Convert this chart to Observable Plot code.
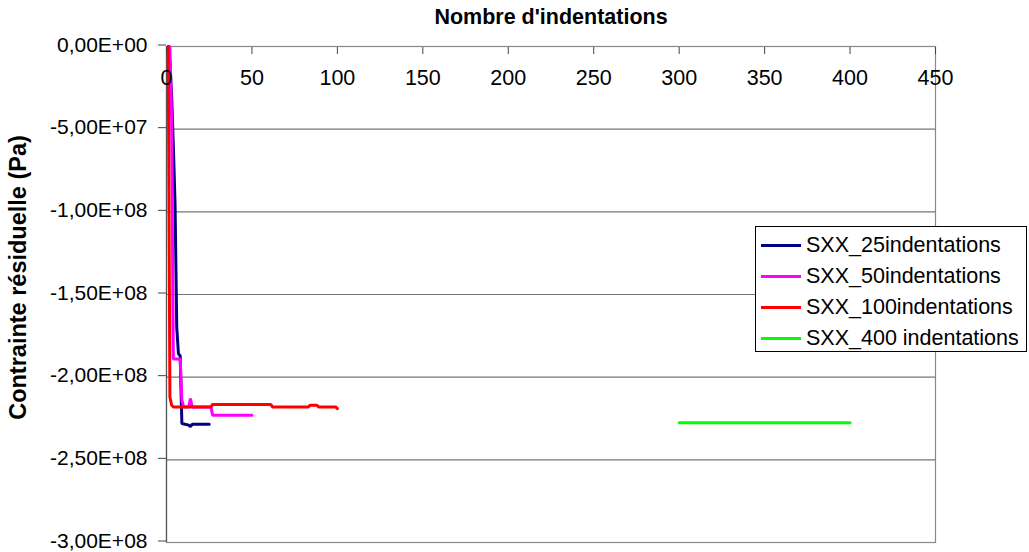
<!DOCTYPE html>
<html><head><meta charset="utf-8">
<script src="https://cdn.jsdelivr.net/npm/d3@7"></script>
<script src="https://cdn.jsdelivr.net/npm/@observablehq/plot@0.6"></script>
<style>
body{margin:0;background:#fff;}
#wrap{position:relative;width:1029px;height:552px;font-family:"Liberation Sans",Arial,sans-serif;}
#legend{position:absolute;left:755px;top:226px;width:272px;height:126px;border:1px solid #000;background:#fff;box-sizing:border-box;}
.row{position:absolute;left:0;height:30px;display:flex;align-items:center;font-size:21.5px;color:#000;white-space:nowrap;}
.sw{width:40px;height:3px;margin-left:5px;margin-right:5px;}
</style>
</head><body>
<div id="wrap"></div>
<script>
const seriesNames = ["SXX_25indentations","SXX_50indentations","SXX_100indentations","SXX_400 indentations"];
const seriesColors = ["#000080","#ff00ff","#ff0000","#00ff00"];

const x25 = [1,2,3,4,5,6,7,8,9,13,14,15,25];
const y25 = [0,-1.0e7,-3.0e7,-6.0e7,-9.5e7,-1.70e8,-1.86e8,-1.87e8,-2.28e8,-2.29e8,-2.30e8,-2.285e8,-2.285e8];

const x50 = [1,2,3,4,8,9,10,13,14,15,26,27,50];
const y50 = [0,0,-4.5e7,-1.89e8,-1.89e8,-2.14e8,-2.18e8,-2.18e8,-2.13e8,-2.18e8,-2.18e8,-2.23e8,-2.23e8];

const x100 = [1,2,3,4,26,27,61,62,83,84,88,89,99,100];
const y100 = [0,-2.12e8,-2.17e8,-2.18e8,-2.18e8,-2.165e8,-2.165e8,-2.18e8,-2.18e8,-2.17e8,-2.17e8,-2.18e8,-2.18e8,-2.19e8];

const x400 = [300,400];
const y400 = [-2.275e8,-2.275e8];

const xTicks = [0,50,100,150,200,250,300,350,400,450];
const yTicks = [0,-5e7,-1e8,-1.5e8,-2e8,-2.5e8,-3e8];
const yTickLabels = ["0,00E+00","-5,00E+07","-1,00E+08","-1,50E+08","-2,00E+08","-2,50E+08","-3,00E+08"];

const xs = [x25,x50,x100,x400], ys = [y25,y50,y100,y400];
const rows = seriesNames.flatMap((s,i)=>xs[i].map((x,j)=>({series:s,x,y:ys[i][j]})));

const chart = Plot.plot({
  width:1029, height:552,
  marginLeft:166, marginRight:94, marginTop:46, marginBottom:10,
  style:{fontFamily:"'Liberation Sans', Arial, sans-serif", fontSize:"21px", color:"#000", background:"#fff"},
  x:{domain:[0,450], axis:null},
  y:{domain:[-3e8,0], axis:null},
  color:{domain:seriesNames, range:seriesColors},
  marks:[
    Plot.gridY(yTicks, {stroke:"#777", strokeOpacity:1, strokeWidth:1.2}),
    Plot.frame({stroke:"#888", strokeWidth:1.2}),
    Plot.ruleX([0], {stroke:"#555", strokeWidth:1.2}),
    Plot.line(rows, {x:"x", y:"y", z:"series", stroke:"series", strokeWidth:3, strokeLinejoin:"miter"}),
    Plot.axisX(xTicks, {anchor:"top", label:null, tickSize:-7, tickPadding:-31, fontSize:21.5, stroke:"#444", tickFormat:d=>String(d)}),
    Plot.axisY(yTicks, {anchor:"left", label:null, tickSize:8, tickPadding:11, fontSize:21, dy:-1.5, stroke:"#444", tickFormat:(d)=>yTickLabels[yTicks.indexOf(d)]}),
    Plot.text(["Nombre d'indentations"], {frameAnchor:"top", dy:-29, lineAnchor:"middle", fontWeight:"bold", fontSize:21.5, text:d=>d}),
    Plot.text(["Contrainte résiduelle (Pa)"], {frameAnchor:"left", dx:-148, dy:-17, textAnchor:"middle", lineAnchor:"middle", rotate:-90, fontWeight:"bold", fontSize:23.5, text:d=>d})
  ]
});
const wrap = document.getElementById("wrap");
wrap.appendChild(chart);

const leg = document.createElement("div");
leg.id = "legend";
seriesNames.forEach((s,i)=>{
  const r = document.createElement("div");
  r.className = "row";
  r.style.top = (3 + i*31.3) + "px";
  const sw = document.createElement("span");
  sw.className = "sw"; sw.style.background = seriesColors[i];
  const t = document.createElement("span");
  t.textContent = s;
  r.appendChild(sw); r.appendChild(t);
  leg.appendChild(r);
});
wrap.appendChild(leg);
</script>
</body></html>
